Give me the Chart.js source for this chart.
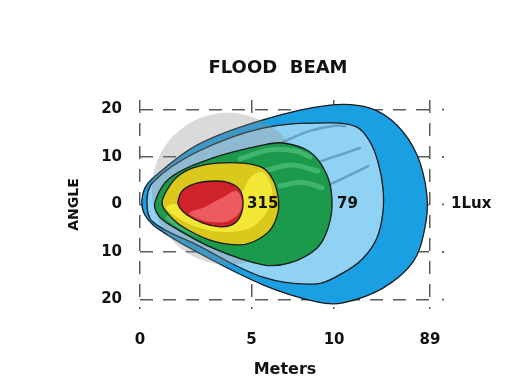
<!DOCTYPE html>
<html lang="en">
<head>
<meta charset="UTF-8">
<title>Flood Beam</title>
<script src="https://cdn.jsdelivr.net/npm/chart.js"></script>
<style>
  html, body { margin: 0; padding: 0; background: #fff; }
  #wrap { width: 514px; height: 385px; }
</style>
</head>
<body>
<div id="wrap"><canvas id="beamChart"></canvas></div>
<script>
// axis ticks (the meters axis is not linear in the original, so ticks sit at drawn positions)
const xTickPos = [0, 5, 8.7, 13];
const xTickLabels = ['0', '5', '10', '89'];
const yTicks = [-20, -10, 0, 10, 20];

// lux contour outlines, [meters axis, angle]
const lux1 = [[0.08, 0.6], [0.22, -2.2], [0.76, -4.95], [2.55, -10.0], [5.51, -16.9], [7.93, -20.5],
  [9.1, -20.7], [10.89, -17.6], [12.24, -12.1], [12.77, -4.95], [12.86, 2.0], [12.42, 10.4],
  [11.52, 16.7], [10.31, 20.3], [8.52, 20.9], [5.51, 17.8], [2.55, 12.5], [0.58, 5.6], [0.22, 3.5]];
const lux79 = [[0.31, 0.5], [0.58, -3.7], [2.55, -8.5], [5.51, -15.3], [7.93, -16.7], [9.1, -14.4],
  [10.0, -11.3], [10.62, -7.05], [10.89, -1.6], [10.89, 3.5], [10.67, 8.95], [10.31, 13.2],
  [9.73, 16.3], [8.52, 17.2], [5.51, 16.1], [2.55, 11.05], [0.58, 4.7]];
const luxGreen = [[0.67, 0.5], [0.81, -2.2], [1.34, -4.3], [3.27, -9.2], [5.51, -12.7], [6.72, -12.3],
  [7.93, -9.2], [8.43, -4.95], [8.61, 0.5], [8.38, 6.2], [7.62, 11.05], [6.41, 12.95],
  [5.51, 12.5], [3.27, 9.8], [1.34, 5.6]];
const lux315 = [[0.99, 0.5], [1.12, -1.2], [1.79, -4.3], [3.14, -7.5], [4.35, -8.5], [5.06, -7.9],
  [5.83, -5.4], [6.19, -1.6], [6.19, 1.6], [5.96, 5.2], [5.51, 7.7], [4.62, 8.7], [3.45, 8.7],
  [2.38, 7.7], [1.66, 5.8], [1.21, 3.05]];
const luxRed = [[1.7, 0.5], [1.79, -0.7], [2.11, -2.2], [2.82, -3.9], [3.59, -4.7], [4.12, -4.3],
  [4.48, -2.6], [4.62, 0.3], [4.48, 3.05], [4.03, 4.5], [3.45, 4.95], [2.55, 4.5], [1.93, 3.05]];
const shadowCenter = [[3.94, 3.3]];

// glossy streaks inside the zones
const redGloss = [[2.2, -1.8], [2.91, -0.5], [3.68, 1.4], [4.3, 2.85], [4.57, 0.95], [4.48, -1.6],
  [3.94, -3.5], [3.14, -3.7], [2.51, -2.85]];
const yellowGloss = [[1.17, -0.7], [1.7, -2.85], [2.69, -4.95], [3.81, -5.8], [4.93, -4.95], [5.6, -2.2],
  [5.92, 1.4], [5.83, 4.7], [5.47, 6.85], [4.93, 5.6], [4.48, 2.0], [3.59, -0.7], [2.47, -1.6], [1.57, 0.1]];
const greenStreaks = [
  [[4.48, 9.6], [5.83, 11.5], [6.95, 11.3], [7.62, 10.0]],
  [[5.74, 7.3], [6.81, 8.3], [7.97, 7.05]],
  [[6.28, 3.9], [7.26, 4.7], [8.16, 3.5]],
  [[1.26, -2.85], [1.93, -4.95], [2.82, -6.6]]
];
const blueStreaks = [
  [[6.41, 13.2], [7.62, 15.5], [8.74, 16.6], [9.19, 16.5]],
  [[7.17, 7.3], [8.29, 9.4], [9.19, 10.8], [9.86, 11.9]],
  [[7.97, 3.05], [8.96, 5.2], [9.68, 6.8], [10.22, 8.1]]
];

// value labels on the zero line
const luxText = ['315', '79', '1Lux'];
const luxAt = [5.5, 9.3, 14.85];

const toXY = pts => pts.map(p => ({ x: p[0], y: p[1] }));

function contour(points, fillColor, edge) {
  return {
    data: toXY(points),
    closed: true,
    backgroundColor: fillColor,
    borderColor: edge === false ? 'rgba(0,0,0,0)' : '#1a1a1a',
    borderWidth: edge === false ? 0 : 1.3,
    fill: 'shape',
    tension: 0.35,
    pointRadius: 0
  };
}

function streak(points, color, width) {
  return {
    data: toXY(points),
    borderColor: color,
    borderWidth: width,
    borderCapStyle: 'round',
    fill: false,
    tension: 0.4,
    pointRadius: 0
  };
}

// let the outlines close on themselves like a radar line
const closeLoops = {
  id: 'closeLoops',
  afterDatasetUpdate(chart, args) {
    const ds = chart.data.datasets[args.index];
    const line = args.meta.dataset;
    if (ds.closed && line) {
      line._loop = true;
      line._fullLoop = true;
      line._pointsUpdated = false;
    }
  }
};

const beamText = {
  id: 'beamText',
  afterDraw(chart) {
    const { ctx, scales: { x, y } } = chart;
    ctx.save();
    ctx.fillStyle = '#111';
    ctx.textAlign = 'center';
    ctx.textBaseline = 'middle';
    ctx.font = 'bold 18px "DejaVu Sans"';
    ctx.fillText('FLOOD  BEAM', 278, 68);
    ctx.font = 'bold 15px "DejaVu Sans"';
    luxText.forEach((t, i) => ctx.fillText(t, x.getPixelForValue(luxAt[i]), y.getPixelForValue(0)));
    // little dots at the end of each dashed row
    ctx.fillStyle = '#666';
    yTicks.forEach(v => ctx.fillRect(x.right + 12, y.getPixelForValue(v) - 1, 2, 2));
    ctx.restore();
  }
};

const axisFont = { family: 'DejaVu Sans', weight: 'bold', size: 15 };
const dashed = { color: '#5a5a5a', lineWidth: 1.5, drawTicks: false };

new Chart(document.getElementById('beamChart'), {
  type: 'line',
  data: {
    datasets: [
      contour(redGloss, '#ee5b5f', false),
      contour(luxRed, '#cf2229'),
      contour(yellowGloss, '#f3e735', false),
      contour(lux315, '#dac81c'),
      ...greenStreaks.map(s => streak(s, '#41b56f', 5)),
      contour(luxGreen, '#1a9a4a'),
      {
        data: toXY(shadowCenter),
        showLine: false,
        pointRadius: 76,
        pointBorderWidth: 0,
        pointBackgroundColor: 'rgba(140,140,140,0.32)',
        pointBorderColor: 'rgba(0,0,0,0)'
      },
      ...blueStreaks.map(s => streak(s, 'rgba(70,120,160,0.55)', 2.5)),
      contour(lux79, '#8fd2f4'),
      contour(lux1, '#1a9fe3')
    ]
  },
  options: {
    responsive: true,
    maintainAspectRatio: false,
    animation: false,
    layout: { padding: { top: 100, right: 84, left: 0, bottom: 0 } },
    plugins: { legend: { display: false }, tooltip: { enabled: false }, title: { display: false } },
    scales: {
      x: {
        type: 'linear', min: 0, max: 13, z: 1,
        afterBuildTicks: s => { s.ticks = xTickPos.map(v => ({ value: v })); },
        afterFit: s => { s.height = 76; },
        ticks: { callback: (v, i) => xTickLabels[i], color: '#111', font: axisFont, padding: 22, autoSkip: false, maxRotation: 0 },
        grid: dashed,
        border: { display: false, dash: [13, 10] },
        title: { display: true, text: 'Meters', color: '#111', font: { family: 'DejaVu Sans', weight: 'bold', size: 16 }, padding: { top: 0, bottom: 6 } }
      },
      y: {
        min: -22, max: 22, z: 1,
        afterBuildTicks: s => { s.ticks = yTicks.map(v => ({ value: v })); },
        afterFit: s => { s.width = 140; },
        ticks: { callback: v => Math.abs(v), color: '#111', font: axisFont, padding: 18 },
        grid: dashed,
        border: { display: false, dash: [13, 10] },
        title: { display: true, text: 'ANGLE', color: '#111', font: { family: 'DejaVu Sans', weight: 'bold', size: 14 }, padding: { top: 66, bottom: 0 } }
      }
    }
  },
  plugins: [closeLoops, beamText]
});
</script>
</body>
</html>
